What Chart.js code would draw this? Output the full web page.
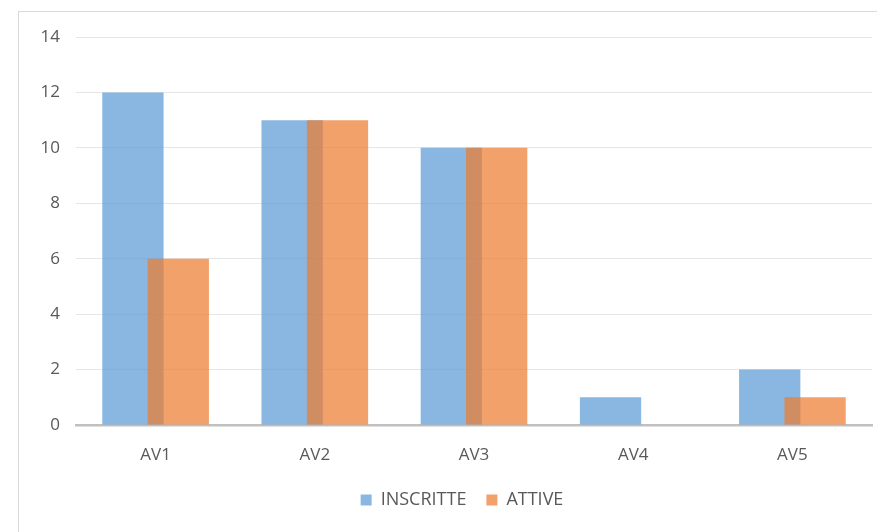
<!DOCTYPE html>
<html>
<head>
<meta charset="utf-8">
<script src="https://cdn.jsdelivr.net/npm/chart.js@4"></script>
<style>
  html, body { margin: 0; padding: 0; background: #fff; }
  #wrap { position: relative; width: 877px; height: 532px; }
  #frame { position: absolute; left: 18px; top: 11px; width: 900px; height: 600px; border: 1px solid #d9d9d9; box-sizing: border-box; pointer-events: none; }
</style>
</head>
<body>
<div id="wrap">
  <canvas id="grafico" width="877" height="532"></canvas>
  <div id="frame"></div>
</div>
<script>
// dati del grafico
const categorie = ["AV1", "AV2", "AV3", "AV4", "AV5"];
const inscritte = [12, 11, 10, 1, 2];
const attive = [6, 11, 10, 0, 1];
const yTicks = [0, 2, 4, 6, 8, 10, 12, 14];

const testo = '#595959';
const famiglia = "'Open Sans', 'Liberation Sans', sans-serif";

// sovrapposizione delle barre (come in Excel).
// ATTIVE ha order 0 per essere disegnata sopra, quindi Chart.js la mette a sinistra:
// qui si scambiano le posizioni e si sovrappongono del 26%
const sovrapposizione = {
  id: 'sovrapposizione',
  afterDatasetsUpdate(chart) {
    chart.data.datasets.forEach((ds, i) => {
      const meta = chart.getDatasetMeta(i);
      const verso = i === 0 ? -1 : 1;
      meta.data.forEach(el => {
        el.x += verso * el.width * 0.87;
      });
    });
  }
};

// altezza fissa della legenda e leggero spostamento a destra
const legendaAltezza = {
  id: 'legendaAltezza',
  beforeLayout(chart) {
    const leg = chart.legend;
    if (leg && !leg._fitPatched) {
      const fit = leg.fit;
      leg.fit = function () { fit.call(this); this.height = 40; };
      leg._fitPatched = true;
    }
  },
  afterLayout(chart) {
    if (chart.legend) chart.legend.left += 30;
  }
};

const ctx = document.getElementById('grafico').getContext('2d');
const chart = new Chart(ctx, {
  type: 'bar',
  data: {
    labels: categorie,
    datasets: [
      {
        label: 'INSCRITTE',
        data: inscritte,
        backgroundColor: 'rgba(91,155,213,0.72)',
        categoryPercentage: 0.77,
        barPercentage: 1.0,
        order: 1
      },
      {
        label: 'ATTIVE',
        data: attive,
        backgroundColor: 'rgba(237,125,49,0.72)',
        categoryPercentage: 0.77,
        barPercentage: 1.0,
        order: 0
      }
    ]
  },
  plugins: [sovrapposizione, legendaAltezza],
  options: {
    responsive: false,
    animation: false,
    layout: { padding: { left: 22, right: 5, top: 37, bottom: 21 } },
    plugins: {
      tooltip: { enabled: false },
      legend: {
        position: 'bottom',
        labels: {
          color: testo,
          font: { family: famiglia, size: 18 },
          boxWidth: 11,
          boxHeight: 11,
          padding: 20,
          sort: (a, b) => a.datasetIndex - b.datasetIndex
        }
      }
    },
    scales: {
      x: {
        offset: true,
        afterFit: axis => { axis.height = 46; },
        grid: { display: false, drawTicks: false },
        border: { color: '#c0c0c0', width: 2.5 },
        ticks: { color: testo, font: { family: famiglia, size: 17 }, padding: 20 }
      },
      y: {
        min: 0,
        max: 14,
        afterBuildTicks: axis => { axis.ticks = yTicks.map(v => ({ value: v })); },
        afterFit: axis => { axis.width = 54; },
        grid: { color: '#e6e6e6', drawTicks: false },
        border: { display: false },
        ticks: { color: testo, font: { family: famiglia, size: 17 }, padding: 16 }
      }
    }
  }
});
</script>
</body>
</html>
